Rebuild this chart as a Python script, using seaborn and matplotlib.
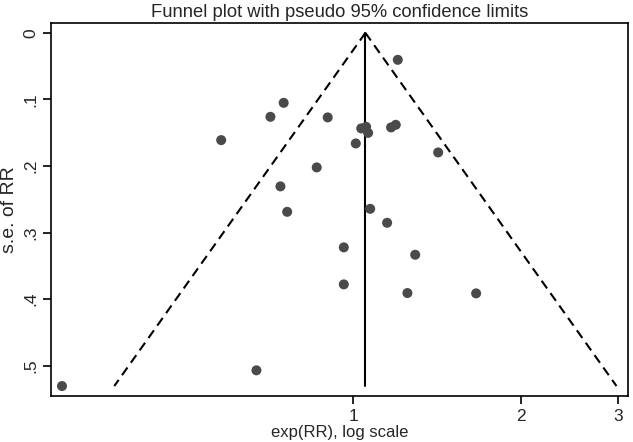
import numpy as np
import pandas as pd
import matplotlib
matplotlib.use("Agg")
import matplotlib.pyplot as plt
from matplotlib.ticker import NullLocator
import seaborn as sns

# study estimates
rr = [1.203, 0.750, 0.710, 0.900, 0.579, 1.034, 1.055, 1.064,
      1.170, 1.193, 1.011, 1.422, 0.860, 0.740, 0.761, 1.073,
      1.151, 0.962, 1.293, 0.962, 1.252, 1.664, 0.670, 0.2995]
se_rr = [0.0405, 0.1051, 0.1261, 0.1270, 0.1611, 0.1435, 0.1411, 0.1502,
         0.1420, 0.1381, 0.1661, 0.1796, 0.2021, 0.2306, 0.2688, 0.2643,
         0.2853, 0.3222, 0.3333, 0.3778, 0.3908, 0.3913, 0.5069, 0.5305]
pooled_rr = 1.052
z95 = 1.96

xticks = [1, 2, 3]
yticks = [0, 0.1, 0.2, 0.3, 0.4, 0.5]
ytick_labels = ["0", ".1", ".2", ".3", ".4", ".5"]

sns.set_style("ticks")
plt.rcParams["font.family"] = ["Liberation Sans", "DejaVu Sans"]

df = pd.DataFrame({"rr": rr, "se": se_rr})

fig, ax = plt.subplots(figsize=(6.33, 4.42), dpi=100)
fig.subplots_adjust(left=0.081, right=0.992, bottom=0.104, top=0.949)

# pseudo 95% limits
se_line = np.array([0, df["se"].max()])
lo = np.exp(np.log(pooled_rr) - z95 * se_line)
hi = np.exp(np.log(pooled_rr) + z95 * se_line)
ax.plot(lo, se_line, color="black", lw=1.5, ls=(0, (4.5, 2.8)))
ax.plot(hi, se_line, color="black", lw=1.5, ls=(0, (4.5, 2.8)))
ax.plot([pooled_rr, pooled_rr], se_line, color="black", lw=1.5)

sns.scatterplot(data=df, x="rr", y="se", ax=ax, s=52, color="#4a4a4a",
                edgecolor="none", zorder=3)

ax.set_xscale("log")
ax.set_xlim(0.2865, 3.12)
ax.set_ylim(0.5455, -0.0155)
ax.set_xticks(xticks)
ax.set_xticklabels([str(t) for t in xticks])
ax.xaxis.set_minor_locator(NullLocator())
ax.set_yticks(yticks)
ax.set_yticklabels(ytick_labels, rotation=90, va="center")

for sp in ax.spines.values():
    sp.set_visible(True)
    sp.set_color("black")
    sp.set_linewidth(1.2)
ax.tick_params(direction="out", length=6, width=1.2, color="black",
               labelsize=12.5, pad=3)

ax.set_xlabel("exp(RR), log scale", fontsize=12, labelpad=1)
ax.set_ylabel("s.e. of RR", fontsize=14, labelpad=4)
ax.set_title("Funnel plot with pseudo 95% confidence limits", fontsize=13.2, pad=4)

plt.savefig("out.png", dpi=100)
plt.close()
